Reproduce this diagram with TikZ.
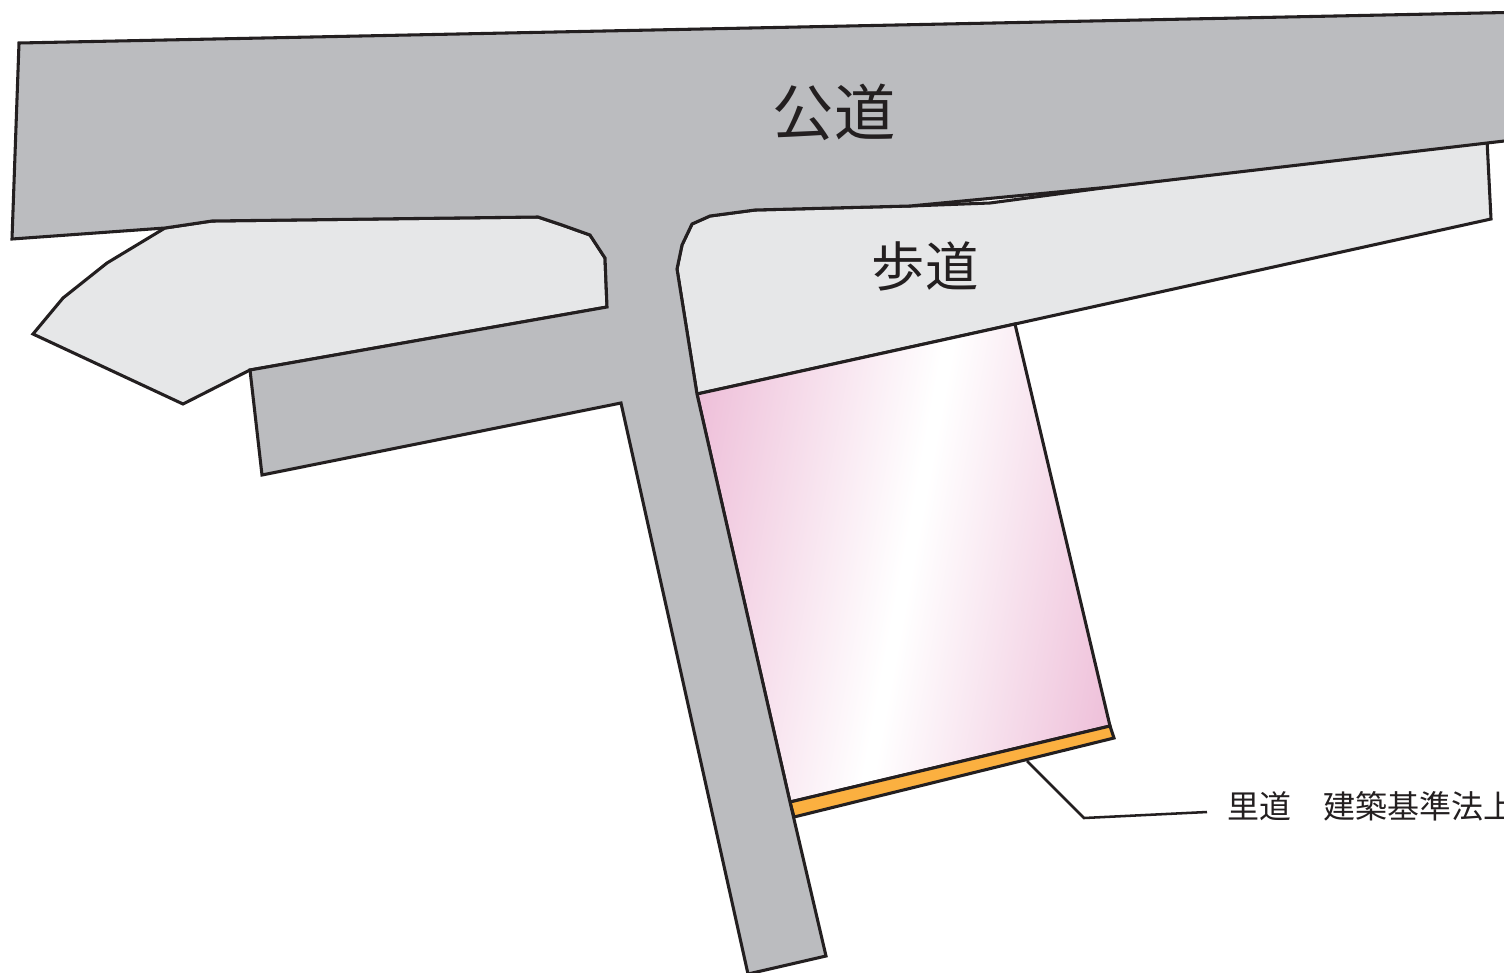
\documentclass[tikz,border=0pt]{standalone}
\usepackage{fontspec}
\newfontfamily\cjk{Noto Sans CJK JP}
\definecolor{roadgray}{HTML}{BBBCBF}
\definecolor{walk}{HTML}{E6E7E8}
\definecolor{orangestrip}{HTML}{FBB040}
\definecolor{ink}{HTML}{231F20}
\definecolor{pinkdeep}{HTML}{EEBFD9}
\pgfdeclarehorizontalshading{pinkband}{100bp}{
  color(0bp)=(pinkdeep); color(25bp)=(pinkdeep); color(50bp)=(white); color(51bp)=(white);
  color(75bp)=(pinkdeep); color(100bp)=(pinkdeep)}
\tikzset{
  outline/.style={draw=ink,line width=2.3pt,line join=miter,miter limit=6},
  road/.style={outline,fill=roadgray},
  sidewalk/.style={outline,fill=walk},
  strip/.style={outline,fill=orangestrip},
  leader/.style={draw=ink,line width=1.9pt,line join=miter},
  roadlabel/.style={text=ink,inner sep=0pt,font=\cjk}
}
\begin{document}
\begin{tikzpicture}[x=0.75pt,y=-0.75pt]
\useasboundingbox (0,0) rectangle (1504,972);
\begin{scope}
\clip (0,0) rectangle (1504,972);
% sidewalks
\path[sidewalk] (165,228) -- (212,221) -- (538,217) -- (562,225) -- (590,235) -- (605,258) -- (607,307) -- (250,370) -- (183,404) -- (33,334) -- (63,298) -- (107,263) -- cycle;
\path[sidewalk] (1487,140) -- (1491,219) -- (1015,324) -- (697,394) -- (677,269) -- (682,245) -- (692,224) -- (710,216) -- (755,210) -- (910,206) -- (990,203) -- (1110,187) -- cycle;
% parcel
\begin{scope}
\clip (697,394) -- (1015,324) -- (1110,726) -- (790,802) -- cycle;
\shade[shading=pinkband,transform canvas={rotate around={-10.5:(903,563)}}] (670,200) rectangle (1136,926);
\end{scope}
\path[outline] (697,394) -- (1015,324) -- (1110,726) -- (790,802) -- cycle;
\path[strip] (790,802) -- (1110,726) -- (1114,738) -- (794,817) -- cycle;
% road
\path[road] (19,43) -- (1530,12) -- (1530,138) -- (1110,187) -- (910,206) -- (755,210) -- (710,216) -- (692,224) -- (682,245) -- (677,269) -- (697,394) -- (790,802) -- (826,956) -- (748,974) -- (621,403) -- (262,475) -- (250,370) -- (607,307) -- (605,258) -- (590,235) -- (562,225) -- (538,217) -- (212,221) -- (165,228) -- (12,239) -- cycle;
\end{scope}
\node[roadlabel,font=\cjk\fontsize{46}{46}\selectfont] (koudou) at (834,112) {公道};
\node[roadlabel,font=\cjk\fontsize{40}{40}\selectfont] (hodou) at (925,266) {歩道};
\node[roadlabel,anchor=west,font=\cjk\fontsize{24}{24}\selectfont] (satomichi) at (1227,806) {里道　建築基準法上};
\coordinate (leaderstart) at (1027,761);
\coordinate (leaderbend) at (1084,818);
\coordinate (leaderend) at (1207,812);
\draw[leader] (leaderstart) -- (leaderbend) -- (leaderend);
\end{tikzpicture}
\end{document}
